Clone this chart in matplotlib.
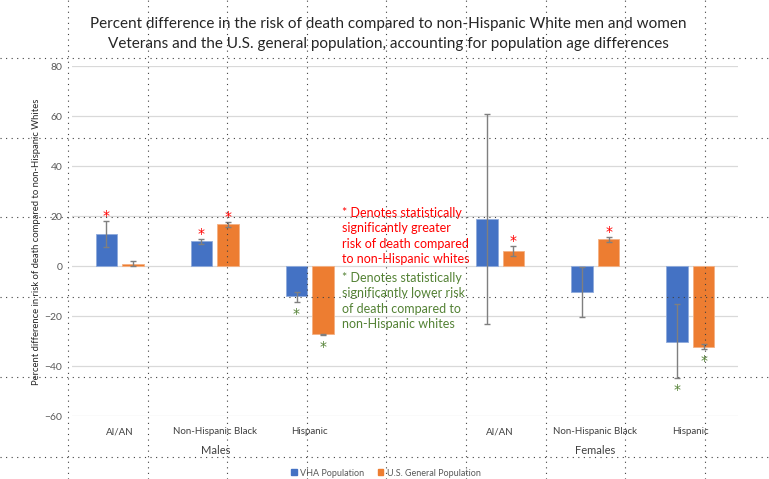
import numpy as np
import matplotlib
matplotlib.use('Agg')
import matplotlib.pyplot as plt
from matplotlib.lines import Line2D

plt.rcParams['font.family'] = ['Lato', 'DejaVu Sans']

# Daten, Slot 4 ist die Lücke zwischen Männern und Frauen
categories = ['AI/AN', 'Non-Hispanic Black', 'Hispanic', '', 'AI/AN', 'Non-Hispanic Black', 'Hispanic']
groups = ['Males', 'Females']
vha = [13, 10, -12, np.nan, 19, -10.3, -30.4]
vha_lo = [7.6, 8.8, -14.3, np.nan, -23, -20.2, -44.8]
vha_hi = [18, 10.8, -10.3, np.nan, 60.7, -0.3, -15.3]
us = [1, 17, -27.2, np.nan, 6, 10.8, -32.3]
us_lo = [0.2, 15.6, -27.4, np.nan, 4.0, 9.5, -33.3]
us_hi = [1.9, 17.5, -27.0, np.nan, 8.0, 11.7, -31.3]
# Signifikanz: 'g' = höher (rot), 'l' = niedriger (grün)
vha_sig = ['g', 'g', 'l', None, None, None, 'l']
us_sig = [None, 'g', 'l', None, 'g', 'g', 'l']

blue = '#4472C4'
orange = '#ED7D31'
red = '#FF0000'
green = '#548235'
grey_text = '#595959'

W, H = 769, 479
fig = plt.figure(figsize=(W / 100, H / 100), dpi=100)

def fx(px):
    return px / W

def fy(py):
    return 1 - py / H

ax = fig.add_axes([fx(72), fy(416), fx(738) - fx(72), fy(66) - fy(416)])

x = np.arange(len(categories))
bw = 0.225
off = 0.14

ax.bar(x - off, vha, bw, color=blue, edgecolor='#8FAADC', linewidth=0.6, zorder=3)
ax.bar(x + off, us, bw, color=orange, edgecolor='#F4B183', linewidth=0.6, zorder=3)

vha_a = np.array(vha)
us_a = np.array(us)
ax.errorbar(x - off, vha_a, yerr=[vha_a - np.array(vha_lo), np.array(vha_hi) - vha_a],
            fmt='none', ecolor='#7F7F7F', elinewidth=1.0, capsize=2.5, capthick=1.0, zorder=4)
ax.errorbar(x + off, us_a, yerr=[us_a - np.array(us_lo), np.array(us_hi) - us_a],
            fmt='none', ecolor='#7F7F7F', elinewidth=1.0, capsize=2.5, capthick=1.0, zorder=4)

# Sterne
for xs, sig, lo, hi in [(x - off, vha_sig, vha_lo, vha_hi), (x + off, us_sig, us_lo, us_hi)]:
    for xi, s, l, h in zip(xs, sig, lo, hi):
        if s == 'g':
            ax.annotate('*', xy=(xi, h), xytext=(0, 5), textcoords='offset pixels',
                        ha='center', va='center', color=red, fontsize=10,
                        family='DejaVu Sans', zorder=5)
        elif s == 'l':
            ax.annotate('*', xy=(xi, l), xytext=(0, -12), textcoords='offset pixels',
                        ha='center', va='center', color=green, fontsize=10,
                        family='DejaVu Sans', zorder=5)

ax.set_ylim(-60, 80)
ax.set_xlim(-0.5, len(categories) - 0.5)
ax.set_yticks(np.arange(-60, 81, 20))
ax.yaxis.grid(True, color='#D9D9D9', linewidth=0.9, zorder=0)
ax.set_axisbelow(True)
for s in ax.spines.values():
    s.set_visible(False)
ax.tick_params(axis='y', length=0, pad=7, labelsize=7.5, labelcolor=grey_text)
ax.set_xticks(x)
ax.set_xticklabels(categories)
ax.tick_params(axis='x', length=0, pad=8, labelsize=7, labelcolor='#404040')

ax.set_ylabel('Percent difference in risk of death compared to non-Hispanic Whites',
              fontsize=6.8, color='#262626')
ax.yaxis.set_label_coords((41 - 72) / 666, (416 - 242) / 350)

fig.text(fx(216), fy(450), groups[0], ha='center', va='center', fontsize=8, color='#404040')
fig.text(fx(595), fy(450), groups[1], ha='center', va='center', fontsize=8, color='#404040')

fig.text(fx(388), fy(34),
         'Percent difference in the risk of death compared to non-Hispanic White men and women\n'
         'Veterans and the U.S. general population, accounting for population age differences',
         ha='center', va='center', fontsize=11, color='#262626', linespacing=1.5)

fig.text(fx(342), fy(236),
         '* Denotes statistically\nsignificantly greater\nrisk of death compared\nto non-Hispanic whites',
         ha='left', va='center', fontsize=9, color=red, linespacing=1.32)
fig.text(fx(342), fy(301),
         '* Denotes statistically\nsignificantly lower risk\nof death compared to\nnon-Hispanic whites',
         ha='left', va='center', fontsize=9, color=green, linespacing=1.32)

handles = [plt.Rectangle((0, 0), 1, 1, color=blue), plt.Rectangle((0, 0), 1, 1, color=orange)]
fig.legend(handles, ['VHA Population', 'U.S. General Population'], loc='center',
           bbox_to_anchor=(fx(386), fy(473)), ncol=2, frameon=False, fontsize=6.5,
           handlelength=0.6, handleheight=0.6, handletextpad=0.4, columnspacing=1.5,
           labelcolor=grey_text)

# gepunktetes Hilfsraster über der ganzen Abbildung
for px in [68, 148, 227, 307, 386, 466, 546, 625, 705]:
    fig.add_artist(Line2D([fx(px), fx(px)], [0, 1], transform=fig.transFigure,
                          color='#404040', linewidth=0.8, linestyle=(0, (1, 4)), zorder=10))
for py in [58, 138, 217, 297, 377, 457]:
    fig.add_artist(Line2D([0, 1], [fy(py), fy(py)], transform=fig.transFigure,
                          color='#404040', linewidth=0.8, linestyle=(0, (1, 4)), zorder=10))

fig.savefig('out.png', dpi=100)
